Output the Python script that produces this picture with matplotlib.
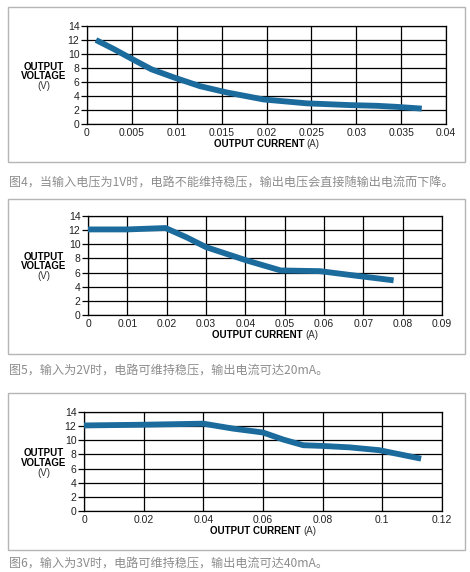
import matplotlib.pyplot as plt

plt.rcParams['font.family'] = ['Liberation Sans', 'Noto Sans CJK SC', 'DejaVu Sans']

# 图4: 输入 1V
x1 = [0.001, 0.003, 0.005, 0.0072, 0.0098, 0.0126, 0.0156, 0.0197, 0.0245, 0.0293, 0.0323, 0.0345, 0.0373]
y1 = [12.0, 10.7, 9.3, 7.8, 6.6, 5.4, 4.5, 3.5, 2.95, 2.7, 2.6, 2.45, 2.2]
xt1 = [0, 0.005, 0.01, 0.015, 0.02, 0.025, 0.03, 0.035, 0.04]
xl1 = ['0', '0.005', '0.01', '0.015', '0.02', '0.025', '0.03', '0.035', '0.04']

# 图5: 输入 2V
x2 = [0, 0.01, 0.0197, 0.025, 0.030, 0.0404, 0.049, 0.059, 0.0675, 0.0777]
y2 = [12.1, 12.1, 12.3, 11.0, 9.6, 7.7, 6.3, 6.2, 5.6, 4.9]
xt2 = [0, 0.01, 0.02, 0.03, 0.04, 0.05, 0.06, 0.07, 0.08, 0.09]
xl2 = ['0', '0.01', '0.02', '0.03', '0.04', '0.05', '0.06', '0.07', '0.08', '0.09']

# 图6: 输入 3V
x3 = [0, 0.02, 0.04, 0.05, 0.06, 0.0668, 0.0735, 0.08, 0.089, 0.099, 0.113]
y3 = [12.1, 12.2, 12.35, 11.65, 11.1, 10.1, 9.3, 9.2, 9.0, 8.6, 7.4]
xt3 = [0, 0.02, 0.04, 0.06, 0.08, 0.1, 0.12]
xl3 = ['0', '0.02', '0.04', '0.06', '0.08', '0.1', '0.12']

yt = [0, 2, 4, 6, 8, 10, 12, 14]

captions = ['图4，当输入电压为1V时，电路不能维持稳压，输出电压会直接随输出电流而下降。',
            '图5，输入为2V时，电路可维持稳压，输出电流可达20mA。',
            '图6，输入为3V时，电路可维持稳压，输出电流可达40mA。']

W, H = 470, 572
fig = plt.figure(figsize=(W / 100, H / 100), dpi=100)
fig.patch.set_facecolor('white')

lineColor = '#1b6b9d'
capColor = '#8c8c8c'


def fx(px):
    return px / W


def fy(py):
    return 1 - py / H


# (box top, box bottom, axes left, axes right, axes top, axes bottom, caption y)
panels = [
    (7, 162, 87, 446, 26, 124, 182, x1, y1, xt1, xl1),
    (199, 354, 88, 442, 216, 315, 370, x2, y2, xt2, xl2),
    (393, 550, 84, 442, 412, 511, 563, x3, y3, xt3, xl3),
]

for i, (bt, bb, al, ar, at, ab, cy, X, Y, xt, xl) in enumerate(panels):
    # 바깥 테두리 박스
    box = plt.Rectangle((fx(8), fy(bb)), fx(465 - 8), (bb - bt) / H, transform=fig.transFigure,
                        facecolor='white', edgecolor='#b5b5b5', linewidth=1.0, zorder=-5)
    fig.patches.append(box)

    ax = fig.add_axes([fx(al), fy(ab), fx(ar - al), (ab - at) / H], zorder=2)
    ax.plot(X, Y, color=lineColor, linewidth=4.2, solid_capstyle='butt', solid_joinstyle='round', zorder=3)
    ax.set_xlim(xt[0], xt[-1])
    ax.set_ylim(0, 14)
    ax.set_xticks(xt)
    ax.set_xticklabels(xl)
    ax.set_yticks(yt)
    ax.grid(True, color='black', linewidth=0.9)
    for s in ax.spines.values():
        s.set_color('black')
        s.set_linewidth(0.9)
    ax.tick_params(axis='both', labelsize=7.5, color='black', length=4, width=0.9, pad=1.5, labelcolor='#222222')
    ax.tick_params(axis='x', length=0, pad=3)
    ax.set_axisbelow(True)

    # y축 라벨
    mid = (at + ab) / 2
    fig.text(fx(44), fy(mid - 8), 'OUTPUT', ha='center', va='center', fontsize=7, fontweight='bold')
    fig.text(fx(44), fy(mid + 1), 'VOLTAGE', ha='center', va='center', fontsize=7, fontweight='bold')
    fig.text(fx(44), fy(mid + 11), '(V)', ha='center', va='center', fontsize=7, color='#333333')

    # x축 라벨
    cx = (al + ar) / 2 + 38
    fig.text(fx(cx), fy(ab + 20), 'OUTPUT CURRENT', ha='right', va='center', fontsize=7, fontweight='bold')
    fig.text(fx(cx + 2), fy(ab + 20), '(A)', ha='left', va='center', fontsize=7, color='#333333')

    # 캡션
    fig.text(fx(9), fy(cy), captions[i], ha='left', va='center', fontsize=8.7, color=capColor,
             family=['Noto Sans CJK SC', 'DejaVu Sans'])

plt.savefig('out.png', dpi=100, facecolor='white')
